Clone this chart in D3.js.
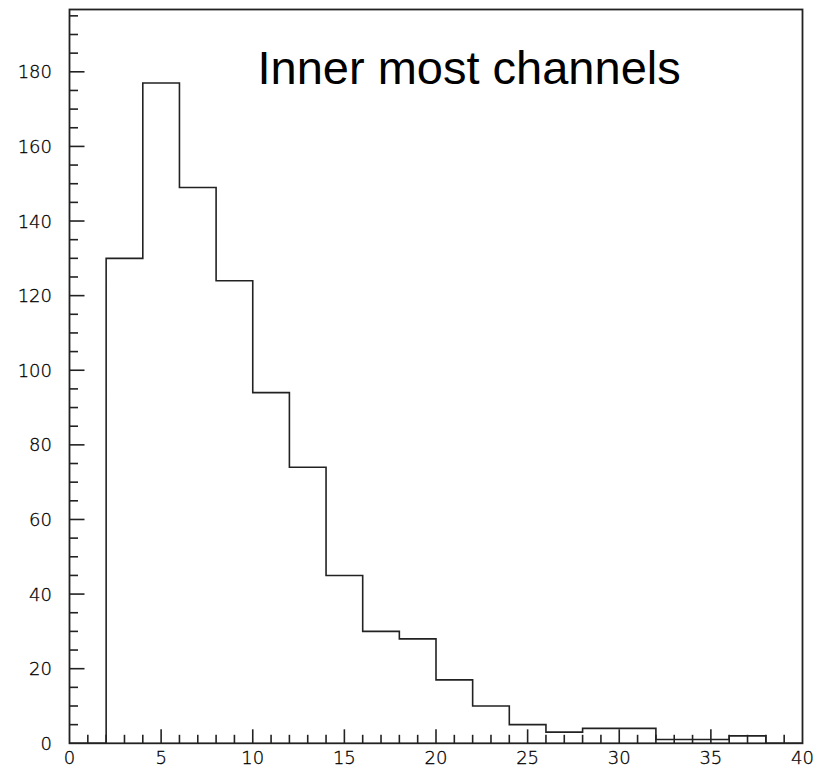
<!DOCTYPE html>
<html>
<head>
<meta charset="utf-8">
<title>Inner most channels</title>
<script src="https://cdn.jsdelivr.net/npm/d3@7"></script>
<style>
  html, body { margin: 0; padding: 0; background: #fff; }
  text { font-family: "Liberation Sans", Arial, Helvetica, sans-serif; fill: #000; }
  .tick-label { font-family: "DejaVu Sans", sans-serif; font-weight: 200; fill: #000; stroke: #000; stroke-width: 0.3; }
</style>
</head>
<body>
<svg width="820" height="767" id="mainsvg"></svg>
<script>
// bin lower edges (width 2) and counts
const binLow = [0, 2, 4, 6, 8, 10, 12, 14, 16, 18, 20, 22, 24, 26, 28, 30, 32, 34, 36, 38]
const counts = [0, 130, 177, 149, 124, 94, 74, 45, 30, 28, 17, 10, 5, 3, 4, 4, 1, 1, 2, 0]
const binWidth = 2
const xTickLabels = [0, 5, 10, 15, 20, 25, 30, 35, 40]
const yTickLabels = [0, 20, 40, 60, 80, 100, 120, 140, 160, 180]
const title = 'Inner most channels'

const svg = d3.select('#mainsvg')
const frame = {left: 69.5, right: 802.5, top: 9.5, bottom: 743.3}

const x = d3.scaleLinear().domain([0, 40]).range([frame.left, frame.right])
const y = d3.scaleLinear().domain([0, 196.7]).range([frame.bottom, frame.top])

// frame
svg.append('rect')
  .attr('x', frame.left).attr('y', frame.top)
  .attr('width', frame.right - frame.left).attr('height', frame.bottom - frame.top)
  .attr('fill', 'none').attr('stroke', '#222').attr('stroke-width', 1.8)

// x ticks (inward), minor every 1, major every 5
const xAxis = svg.append('g')
xAxis.selectAll('line').data(d3.range(1, 40)).join('line')
  .attr('x1', d => x(d)).attr('x2', d => x(d))
  .attr('y1', frame.bottom).attr('y2', d => frame.bottom - (d % 5 === 0 ? 14 : 8.5))
  .attr('stroke', '#222').attr('stroke-width', 1.6)
xAxis.selectAll('text').data(xTickLabels).join('text')
  .attr('class', 'tick-label')
  .attr('x', d => x(d)).attr('y', frame.bottom + 21)
  .attr('text-anchor', 'middle')
  .attr('font-size', 18)
  .text(d => d)

// y ticks (inward), minor every 5, major every 20
const yAxis = svg.append('g')
yAxis.selectAll('line').data(d3.range(5, 200, 5)).join('line')
  .attr('x1', frame.left).attr('x2', d => frame.left + (d % 20 === 0 ? 15 : 8.5))
  .attr('y1', d => y(d)).attr('y2', d => y(d))
  .attr('stroke', '#222').attr('stroke-width', 1.6)
yAxis.selectAll('text').data(yTickLabels).join('text')
  .attr('class', 'tick-label')
  .attr('x', 52).attr('y', d => y(d) + 6.5)
  .attr('text-anchor', 'end')
  .attr('font-size', 18)
  .text(d => d)

// histogram outline
const pts = binLow.map((b, i) => [b, counts[i]])
pts.push([binLow[binLow.length - 1] + binWidth, counts[counts.length - 1]])
const line = d3.line()
  .x(d => x(d[0]))
  .y(d => y(d[1]))
  .curve(d3.curveStepAfter)
svg.append('path')
  .datum(pts)
  .attr('d', line)
  .attr('fill', 'none')
  .attr('stroke', '#222')
  .attr('stroke-width', 1.6)

svg.append('text')
  .attr('x', 257.5).attr('y', 83.5)
  .attr('font-size', 47)
  .text(title)
</script>
</body>
</html>
